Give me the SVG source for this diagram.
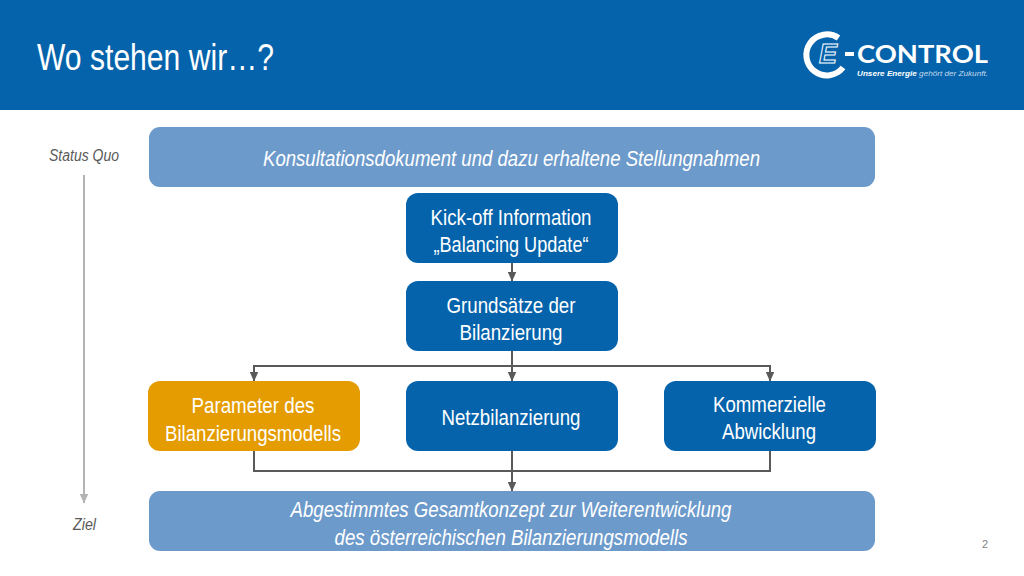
<svg xmlns="http://www.w3.org/2000/svg" width="1024" height="576" viewBox="0 0 1024 576">
<style>
text{font-family:"Liberation Sans",Arial,sans-serif}
.n{fill:#0563ab}
.l{fill:#6c9acb}
.o{fill:#e49c00}
.t{fill:#fff;font-size:22.500px;text-anchor:middle}
.i{font-style:italic}
.s{fill:#595959;font-size:16px;font-style:italic;text-anchor:middle}
.c{fill:none;stroke:#595959;stroke-width:2}
.g{fill:none;stroke:#b4b4b4;stroke-width:2}
</style>
<defs>
<marker id="a" markerUnits="userSpaceOnUse" markerWidth="10" markerHeight="9" refX="9.5" refY="4.5" orient="auto"><path d="M0 0L10 4.5L0 9Z" fill="#595959"/></marker>
<marker id="b" markerUnits="userSpaceOnUse" markerWidth="10" markerHeight="9" refX="9.5" refY="4.5" orient="auto"><path d="M0 0L10 4.5L0 9Z" fill="#b4b4b4"/></marker>
</defs>
<rect width="1024" height="576" fill="#fff"/>
<g id="header">
<rect width="1024" height="110" fill="#0563ab"/>
<text x="37" y="70" font-size="37" fill="#fff" textLength="237" lengthAdjust="spacingAndGlyphs">Wo stehen wir…?</text>
</g>
<g id="logo">
<path d="M838.500 38A20.500 20.500 0 1 0 843 67.500" fill="none" stroke="#fff" stroke-width="6"/>
<text x="819" y="63" font-size="27" font-weight="bold" font-style="italic" fill="#0563ab" stroke="#fff" stroke-width="1" textLength="18" lengthAdjust="spacingAndGlyphs">E</text>
<rect x="845" y="52" width="9" height="4" fill="#fff"/>
<text x="857" y="63" font-size="25" font-weight="bold" fill="#fff" style="font-family:Lato,'Liberation Sans',sans-serif" textLength="131" lengthAdjust="spacingAndGlyphs">CONTROL</text>
<text x="857" y="75.500" font-size="8" fill="#c6d9ec" font-style="italic" textLength="131" lengthAdjust="spacingAndGlyphs"><tspan font-weight="bold" fill="#fff">Unsere Energie</tspan> gehört der Zukunft.</text>
</g>
<g id="connectors">
<path class="c" marker-end="url(#a)" d="M512 263V281"/>
<path class="c" marker-end="url(#a)" d="M512 351V381"/>
<path class="c" marker-end="url(#a)" d="M512 366H254V381"/>
<path class="c" marker-end="url(#a)" d="M512 366H770V381"/>
<path class="c" marker-end="url(#a)" d="M512 451V491"/>
<path class="c" d="M254 451V471H770V451"/>
<path class="g" marker-end="url(#b)" d="M84 175V503"/>
</g>
<g id="status-quo"><text class="s" x="84" y="161" textLength="70" lengthAdjust="spacingAndGlyphs">Status Quo</text></g>
<g id="ziel"><text class="s" x="84.500" y="530" textLength="23" lengthAdjust="spacingAndGlyphs">Ziel</text></g>
<g id="konsultation">
<rect class="l" x="149" y="127" width="726" height="60" rx="11"/>
<text class="t i" x="511.500" y="165.500" textLength="497" lengthAdjust="spacingAndGlyphs">Konsultationsdokument und dazu erhaltene Stellungnahmen</text>
</g>
<g id="kickoff">
<rect class="n" x="406" y="193" width="212" height="70" rx="12"/>
<text class="t" x="511" y="224.500" textLength="161" lengthAdjust="spacingAndGlyphs">Kick-off Information</text>
<text class="t" x="511" y="251.500" textLength="155" lengthAdjust="spacingAndGlyphs">„Balancing Update“</text>
</g>
<g id="grundsaetze">
<rect class="n" x="406" y="281" width="212" height="70" rx="12"/>
<text class="t" x="511" y="312.500" textLength="129" lengthAdjust="spacingAndGlyphs">Grundsätze der</text>
<text class="t" x="511" y="339.500" textLength="103" lengthAdjust="spacingAndGlyphs">Bilanzierung</text>
</g>
<g id="parameter">
<rect class="o" x="148" y="381" width="212" height="70" rx="12"/>
<text class="t" x="253" y="412.500" textLength="123" lengthAdjust="spacingAndGlyphs">Parameter des</text>
<text class="t" x="253" y="440.500" textLength="176" lengthAdjust="spacingAndGlyphs">Bilanzierungsmodells</text>
</g>
<g id="netz">
<rect class="n" x="406" y="381" width="212" height="70" rx="12"/>
<text class="t" x="511" y="425" textLength="139" lengthAdjust="spacingAndGlyphs">Netzbilanzierung</text>
</g>
<g id="kommerziell">
<rect class="n" x="664" y="381" width="212" height="70" rx="12"/>
<text class="t" x="769.500" y="411.500" textLength="113" lengthAdjust="spacingAndGlyphs">Kommerzielle</text>
<text class="t" x="769" y="438.500" textLength="94" lengthAdjust="spacingAndGlyphs">Abwicklung</text>
</g>
<g id="gesamtkonzept">
<rect class="l" x="149" y="491" width="726" height="60" rx="11"/>
<text class="t i" x="511" y="516.500" textLength="441" lengthAdjust="spacingAndGlyphs">Abgestimmtes Gesamtkonzept zur Weiterentwicklung</text>
<text class="t i" x="511" y="544.500" textLength="353" lengthAdjust="spacingAndGlyphs">des österreichischen Bilanzierungsmodells</text>
</g>
<text x="985" y="548" font-size="11" fill="#7f7f7f" text-anchor="middle">2</text>
</svg>
